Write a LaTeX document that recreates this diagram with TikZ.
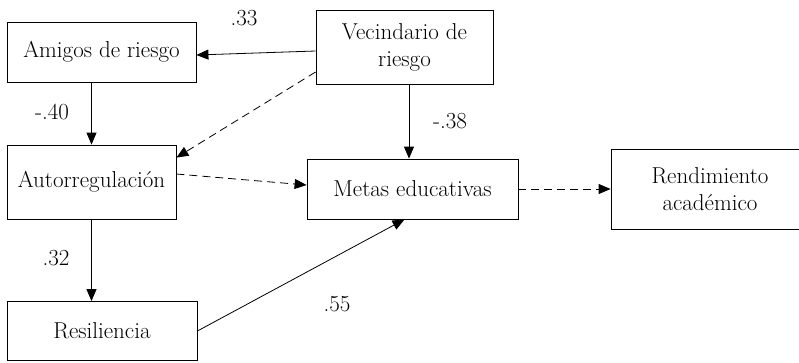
\documentclass[tikz,border=0pt]{standalone}
\usetikzlibrary{arrows.meta}

\tikzset{
  var/.style={draw, thick, align=center, inner sep=0pt, font=\fontsize{23}{27}\selectfont},
  path/.style={thick, -{Triangle[length=12pt,width=10pt]}},
  nopath/.style={path, dash pattern=on 8pt off 5pt},
  coef/.style={font=\fontsize{23}{27}\selectfont, inner sep=0pt}
}

\begin{document}
\begin{tikzpicture}[x=1pt,y=-1pt]
        \useasboundingbox (0,0) rectangle (799,362);
        \clip (0,0) rectangle (799,362);
        \node[var, minimum width=189pt, minimum height=60pt] (ami) at (101.5,52) {Amigos de riesgo};%amigos
        \node[var, minimum width=177pt, minimum height=74pt] (vec) at (404.5,47) {Vecindario de\\riesgo};%vecindario
        \node[var, minimum width=169pt, minimum height=74pt] (aut) at (91.5,182) {Autorregulaci\'on};%autorregulacion
        \node[var, minimum width=211pt, minimum height=60pt] (met) at (412.5,189) {Metas educativas};%metas
        \node[var, minimum width=198pt, minimum height=80pt] (ren) at (710,189) {Rendimiento\\acad\'emico};%rendimiento
        \node[var, minimum width=190pt, minimum height=59pt] (res) at (102,331) {Resiliencia};%resiliencia
        \draw [path] ([yshift=-4pt]vec.west)--([yshift=-3pt]ami.east);
        \draw [nopath] ([yshift=-25pt]vec.west)--([yshift=-13pt]aut.north east);
        \draw [path] (ami.south -| aut.north)--(aut.north);
        \draw [path] ([xshift=4.5pt]vec.south)--([xshift=4.5pt]vec.south |- met.north);
        \draw [nopath] ([yshift=8pt]aut.east)--([yshift=4pt]met.west);
        \draw [nopath] (met.east)--(ren.west);
        \draw [path] (aut.south)--(aut.south |- res.north);
        \draw [path] (res.east)--([xshift=-8pt]met.south);
        \node[coef] (c33) at (244,18) {.33};
        \node[coef] (c40) at (52,112) {-.40};
        \node[coef] (c38) at (450,121) {-.38};
        \node[coef] (c32) at (56,258) {.32};
        \node[coef] (c55) at (337,304) {.55};
\end{tikzpicture}
\end{document}
